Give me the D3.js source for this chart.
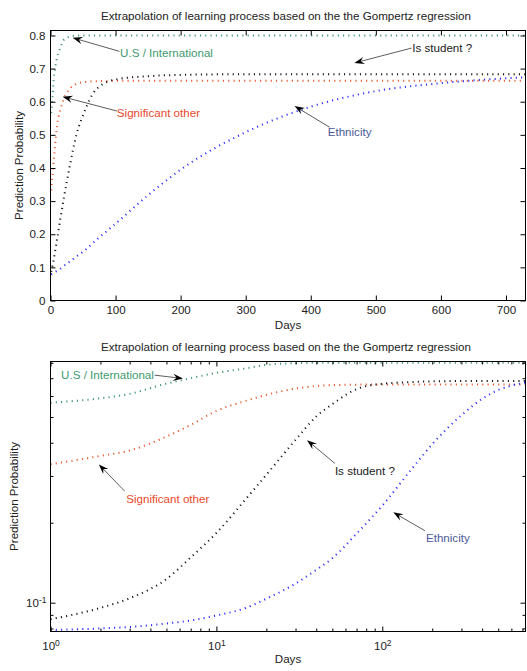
<!DOCTYPE html>
<html>
<head>
<meta charset="utf-8">
<script src="https://cdn.jsdelivr.net/npm/d3@7"></script>
<style>
  body { margin: 0; background: #fff; }
  svg text { font-family: "Liberation Sans", Arial, sans-serif; font-size: 11.6px; fill: #222; }
</style>
</head>
<body>
<svg id="chart" width="527" height="671"></svg>
<script>
// values (days since start -> prediction probability)
const days      = [1, 2, 3, 5, 7, 10, 15, 20, 30, 40, 50, 70, 100, 150, 200, 300, 400, 500, 600, 730];
const usIntl    = [0.566, 0.588, 0.611, 0.668, 0.700, 0.733, 0.762, 0.786, 0.797, 0.800, 0.800, 0.800, 0.800, 0.800, 0.800, 0.800, 0.800, 0.800, 0.800, 0.800];
const sigOther  = [0.332, 0.357, 0.374, 0.422, 0.467, 0.527, 0.575, 0.606, 0.640, 0.654, 0.659, 0.662, 0.663, 0.663, 0.663, 0.663, 0.663, 0.663, 0.663, 0.663];
const isStudent = [0.0866, 0.0956, 0.1039, 0.1227, 0.148, 0.183, 0.245, 0.303, 0.410, 0.502, 0.559, 0.637, 0.667, 0.677, 0.681, 0.683, 0.683, 0.683, 0.683, 0.683];
const ethnicity = [0.0789, 0.0800, 0.0810, 0.0835, 0.0857, 0.0895, 0.0955, 0.1035, 0.118, 0.133, 0.147, 0.182, 0.232, 0.318, 0.395, 0.508, 0.585, 0.632, 0.656, 0.674];

const linTicksX = [0, 100, 200, 300, 400, 500, 600, 700];
const linTicksY = [0, 0.1, 0.2, 0.3, 0.4, 0.5, 0.6, 0.7, 0.8];
const logMajorX = [1, 10, 100];
const logMinorX = [2, 3, 4, 5, 6, 7, 8, 9, 20, 30, 40, 50, 60, 70, 80, 90, 200, 300, 400, 500, 600, 700];
const logMajorY = [0.1];
const logMinorY = [0.08, 0.09, 0.2, 0.3, 0.4, 0.5, 0.6, 0.7, 0.8];

const titleText = "Extrapolation of learning process based on the the Gompertz regression";

const series = [
  { values: usIntl,    color: "#3a9468" },
  { values: sigOther,  color: "#e8562c" },
  { values: isStudent, color: "#111111" },
  { values: ethnicity, color: "#2a2aff" }
];

const svg = d3.select("#chart");
const L = 50.5, R = 525.5;

// linear panel
const xLin = d3.scaleLinear().domain([0, 730]).range([L, R]);
const yLin = d3.scaleLinear().domain([0, 0.815]).range([300.5, 30.5]);
// log panel
const xLog = d3.scaleLog().domain([1, 730]).range([L, R]);
const yLog = d3.scaleLog().domain([0.0779, 0.809]).range([631.5, 361.5]);

const topNotes = [
  { label: "U.S / International", color: "#3d9a6e", head: [34, 0.793], tail: [106, 0.752], text: [107, 0.747], anchor: "start" },
  { label: "Is student ?",        color: "#222",    head: [467, 0.717], tail: [555, 0.762], text: [556, 0.762], anchor: "start" },
  { label: "Significant other",   color: "#e8482a", head: [18.5, 0.615], tail: [102, 0.572], text: [102, 0.567], anchor: "start" },
  { label: "Ethnicity",           color: "#4a5a98", head: [375, 0.587], tail: [429, 0.523], text: [426, 0.508], anchor: "start" }
];
const logNotes = [
  { label: "U.S / International", color: "#3d9a6e", head: [6.29, 0.698], tail: [4.24, 0.7188], text: [4.2, 0.7188], anchor: "end" },
  { label: "Significant other",   color: "#e8482a", head: [1.956, 0.3315], tail: [2.8, 0.263], text: [2.86, 0.2455], anchor: "start" },
  { label: "Is student ?",        color: "#222",    head: [35.2, 0.409], tail: [51.8, 0.3344], text: [51.8, 0.3137], anchor: "start" },
  { label: "Ethnicity",           color: "#4a5a98", head: [116.4, 0.2188], tail: [180.7, 0.1866], text: [183.3, 0.1747], anchor: "start" }
];

function drawPanel(x, y, opt) {
  const g = svg.append("g");
  const top = y.range()[1], bottom = y.range()[0];

  // title
  g.append("text").attr("x", (L + R) / 2 - 2).attr("y", top - 10.7)
    .attr("text-anchor", "middle").text(titleText);

  // curves
  const line = d3.line()
    .x((d, i) => x(days[i]))
    .y(d => y(d))
    .curve(d3.curveMonotoneX);
  series.forEach(s => {
    g.append("path")
      .attr("d", line(s.values))
      .attr("fill", "none")
      .attr("stroke", s.color)
      .attr("stroke-width", 2)
      .attr("stroke-dasharray", "1.1,4.2");
  });

  // axes, ticks pointing inward like MATLAB
  const ax = (gen, tx, ty) => g.append("g").attr("transform", `translate(${tx},${ty})`).call(gen)
    .call(a => a.select(".domain").remove())
    .call(a => a.selectAll(".tick line").attr("stroke", "#000"));

  const bx = ax(d3.axisBottom(x).tickValues(opt.majorX).tickSizeInner(-5).tickSizeOuter(0).tickPadding(opt.padX).tickFormat(opt.fmtX), 0, bottom);
  ax(d3.axisTop(x).tickValues(opt.majorX).tickSizeInner(-5).tickSizeOuter(0).tickFormat(""), 0, top);
  const by = ax(d3.axisLeft(y).tickValues(opt.majorY).tickSizeInner(-5).tickSizeOuter(0).tickPadding(opt.padY).tickFormat(opt.fmtY), L, 0);
  ax(d3.axisRight(y).tickValues(opt.majorY).tickSizeInner(-5).tickSizeOuter(0).tickFormat(""), R, 0);
  if (opt.minorX) {
    ax(d3.axisBottom(x).tickValues(opt.minorX).tickSizeInner(-3).tickSizeOuter(0).tickFormat(""), 0, bottom);
    ax(d3.axisTop(x).tickValues(opt.minorX).tickSizeInner(-3).tickSizeOuter(0).tickFormat(""), 0, top);
    ax(d3.axisLeft(y).tickValues(opt.minorY).tickSizeInner(-3).tickSizeOuter(0).tickFormat(""), L, 0);
    ax(d3.axisRight(y).tickValues(opt.minorY).tickSizeInner(-3).tickSizeOuter(0).tickFormat(""), R, 0);
  }
  g.selectAll(".tick text").attr("fill", "#222").attr("font-size", null).attr("font-family", null);
  if (opt.pow) {
    [bx, by].forEach(a => a.selectAll(".tick text").each(function (d) {
      const t = d3.select(this).text(null);
      t.append("tspan").text("10");
      t.append("tspan").attr("dy", "-0.45em").style("font-size", "8.5px").text(String(Math.round(Math.log10(d))));
    }));
  }

  // box
  g.append("rect").attr("x", L).attr("y", top).attr("width", R - L).attr("height", bottom - top)
    .attr("fill", "none").attr("stroke", "#000").attr("shape-rendering", "crispEdges");

  // axis labels
  g.append("text").attr("x", (L + R) / 2).attr("y", bottom + opt.xLabelDy)
    .attr("text-anchor", "middle").text("Days");
  g.append("text").attr("transform", `translate(${opt.yLabelX},${(top + bottom) / 2}) rotate(-90)`)
    .attr("text-anchor", "middle").text("Prediction Probability");

  // annotations
  opt.notes.forEach(n => {
    const hx = x(n.head[0]), hy = y(n.head[1]);
    const tx = x(n.tail[0]), ty = y(n.tail[1]);
    const ang = Math.atan2(hy - ty, hx - tx);
    const len = 10, w = 3.6;
    const back = (d, o) => [hx - d * Math.cos(ang) - o * Math.sin(ang), hy - d * Math.sin(ang) + o * Math.cos(ang)];
    const stop = back(6, 0);
    g.append("line").attr("x1", tx).attr("y1", ty).attr("x2", stop[0]).attr("y2", stop[1])
      .attr("stroke", "#333").attr("stroke-width", 0.8);
    g.append("polygon")
      .attr("points", [[hx, hy], back(len, w), back(len * 0.65, 0), back(len, -w)].map(p => p.join(",")).join(" "))
      .attr("fill", "#000");
    g.append("text").attr("x", x(n.text[0])).attr("y", y(n.text[1]))
      .attr("dy", "0.35em").attr("text-anchor", n.anchor)
      .attr("fill", n.color).style("fill", n.color).text(n.label);
  });
}

drawPanel(xLin, yLin, {
  majorX: linTicksX, majorY: linTicksY,
  fmtX: d3.format("d"), fmtY: d => d === 0 ? "0" : d3.format(".1f")(d),
  padX: 5, padY: 5, xLabelDy: 28.5, yLabelX: 22.5, notes: topNotes
});

drawPanel(xLog, yLog, {
  majorX: logMajorX, majorY: logMajorY, minorX: logMinorX, minorY: logMinorY,
  fmtX: d => d, fmtY: d => d, pow: true,
  padX: 10.5, padY: 4, xLabelDy: 31.5, yLabelX: 17.5, notes: logNotes
});
</script>
</body>
</html>
